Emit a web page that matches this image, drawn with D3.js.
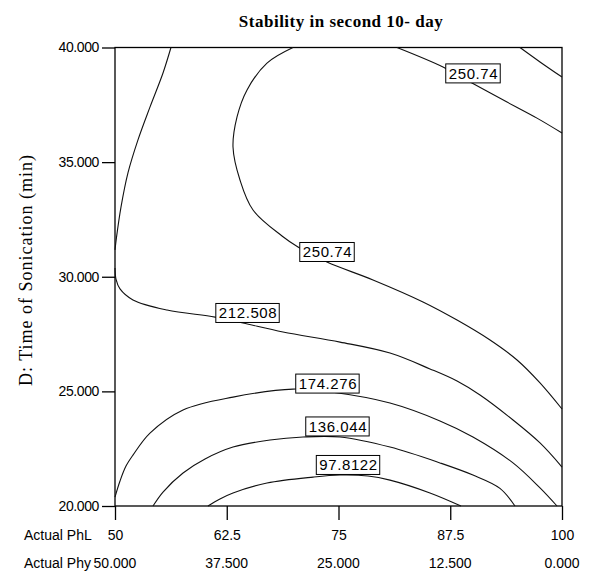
<!DOCTYPE html>
<html><head><meta charset="utf-8">
<script src="https://cdn.jsdelivr.net/npm/d3@7/dist/d3.min.js"></script>
<style>body{margin:0;background:#fff}svg{display:block}</style>
</head><body><svg id="chart" width="589" height="574"></svg>
<script>
// ---- data (PhL %, time of sonication min) ----
const titleText = "Stability in second 10- day";
const yTicks = [20, 25, 30, 35, 40];
const phlTicks = [50, 62.5, 75, 87.5, 100];
const phlLabels = ["50", "62.5", "75", "87.5", "100"];
const phyLabels = ["50.000", "37.500", "25.000", "12.500", "0.000"];

// contour 212.508 (left branch that leaves through the left edge)
const c212a = [[56.26,40],[55.37,38.89],[53.91,37.40],[52.57,35.97],[51.45,34.53],[50.67,33.04],[50.17,31.73],[50,31.17]];
// contour 212.508 (main branch)
const c212b = [[50,30.38],[50.11,29.90],[50.56,29.47],[52.01,28.99],[55.82,28.55],[61.19,28.24],[64.32,27.98],[68.79,27.59],[75.17,27.15],[80.76,26.67],[85.23,25.98],[88.26,25.45],[90.83,24.84],[94.52,23.75],[97.54,22.75],[100,21.70]];
// contour 250.74 (C-shaped branch)
const c250a = [[69.91,40],[67.00,39.32],[64.77,38.15],[63.65,36.97],[63.20,35.66],[63.98,34.22],[65.44,32.91],[68.68,31.78],[70.47,31.30],[73.71,30.64],[78.86,29.86],[84.45,28.90],[88.26,28.11],[91.95,27.24],[94.97,26.37],[97.54,25.37],[100,24.23]];
// contour 250.74 (upper right branch)
const c250b = [[81.54,40],[86.69,39.15],[89.93,38.45],[93.85,37.62],[97.20,36.92],[100,36.27]];
// unlabelled higher contour (top right corner)
const cTop = [[95.30,40],[97.54,39.37],[100,38.71]];
// contour 174.276
const c174 = [[50,20.39],[50.56,21.09],[51.23,21.74],[52.01,22.22],[53.91,23.18],[57.61,24.19],[63.20,24.75],[69.91,25.10],[74.16,24.97],[80.76,24.49],[86.35,23.71],[90.04,23.01],[94.52,21.88],[97.54,20.79],[99.44,20]];
// contour 136.044
const c136 = [[54.25,20],[55.37,20.61],[57.61,21.44],[60.07,22.05],[63.20,22.57],[67.34,22.88],[71.03,23.01],[75.17,23.01],[80.76,22.57],[86.35,21.88],[90.04,21.35],[93.06,20.77],[94.74,20]];
// contour 97.8122
const c98 = [[60.40,20],[61.74,20.31],[63.20,20.57],[67.00,21.00],[72.15,21.26],[75.17,21.35],[78.30,21.31],[80.76,21.13],[85.23,20.57],[88.70,20]];

const contourLines = [c212a, c212b, c250a, c250b, cTop, c174, c136, c98];

// contour labels: text and centre (PhL, time)
const labelTexts = ["250.74", "250.74", "212.508", "174.276", "136.044", "97.8122"];
const labelPos = [[90.10,38.87],[73.77,31.08],[64.88,28.42],[73.82,25.34],[74.94,23.47],[76.12,21.79]];

// ---- drawing ----
const svg = d3.select("#chart");
const L = 115, R = 562, T = 47.5, B = 506;
const x = d3.scaleLinear().domain([50, 100]).range([L, R]);
const y = d3.scaleLinear().domain([20, 40]).range([B, T]);
const axisFont = "'Liberation Sans', Arial, sans-serif";
const serif = "'Liberation Serif', 'Times New Roman', serif";

svg.append("text")
  .attr("x", 341).attr("y", 27)
  .attr("text-anchor", "middle")
  .attr("font-family", serif)
  .attr("font-weight", "bold").attr("font-size", 17)
  .attr("letter-spacing", 0.5)
  .text(titleText);

// plot frame
svg.append("rect").attr("x", L).attr("y", T).attr("width", R - L).attr("height", B - T)
  .attr("fill", "none").attr("stroke", "#000").attr("stroke-width", 1.3);

// contour lines
const line = d3.line().x(d => x(d[0])).y(d => y(d[1])).curve(d3.curveCatmullRom.alpha(0.5));
svg.append("g").selectAll("path").data(contourLines).join("path")
  .attr("d", line).attr("fill", "none").attr("stroke", "#111").attr("stroke-width", 1.1);

// labels
const lg = svg.append("g").selectAll("g").data(labelTexts).join("g")
  .attr("transform", (d, i) => `translate(${x(labelPos[i][0])},${y(labelPos[i][1])})`);
lg.append("text")
  .attr("text-anchor", "middle").attr("dy", "0.36em")
  .attr("font-family", axisFont).attr("font-size", 15).attr("letter-spacing", 0.6)
  .text(d => d);
lg.each(function() {
  const g = d3.select(this);
  const bb = g.select("text").node().getBBox();
  g.insert("rect", "text")
    .attr("x", bb.x - 3).attr("y", -9.5).attr("width", bb.width + 5).attr("height", 19)
    .attr("fill", "#fff").attr("stroke", "#000").attr("stroke-width", 1);
});

// y axis
const ya = svg.append("g").attr("transform", `translate(${L},0)`)
  .call(d3.axisLeft(y).tickValues(yTicks).tickFormat(d3.format(".3f")).tickSize(13).tickSizeOuter(0).tickPadding(3));
ya.select(".domain").remove();
ya.selectAll("line").attr("stroke", "#000").attr("stroke-width", 1.3);
ya.selectAll("text").attr("font-family", axisFont).attr("font-size", 14).attr("fill", "#000").attr("letter-spacing", -0.4);

// x axis
const xa = svg.append("g").attr("transform", `translate(0,${B})`)
  .call(d3.axisBottom(x).tickValues(phlTicks).tickFormat((d, i) => phlLabels[i]).tickSize(14).tickSizeOuter(0).tickPadding(10));
xa.select(".domain").remove();
xa.selectAll("line").attr("stroke", "#000").attr("stroke-width", 1.3);
xa.selectAll("text").attr("font-family", axisFont).attr("font-size", 14).attr("fill", "#000");

// second row (Phy)
svg.append("g").selectAll("text").data(phyLabels).join("text")
  .attr("x", (d, i) => x(phlTicks[i])).attr("y", 568)
  .attr("text-anchor", "middle")
  .attr("font-family", axisFont).attr("font-size", 14)
  .text(d => d);

svg.append("text").attr("x", 24).attr("y", 540)
  .attr("font-family", axisFont).attr("font-size", 14)
  .text("Actual PhL");
svg.append("text").attr("x", 24).attr("y", 568)
  .attr("font-family", axisFont).attr("font-size", 14)
  .text("Actual Phy");

// y axis title
svg.append("text")
  .attr("transform", `translate(32,270) rotate(-90)`)
  .attr("text-anchor", "middle")
  .attr("font-family", serif)
  .attr("font-size", 18).attr("letter-spacing", 1)
  .text("D: Time of Sonication (min)");
</script></body></html>
